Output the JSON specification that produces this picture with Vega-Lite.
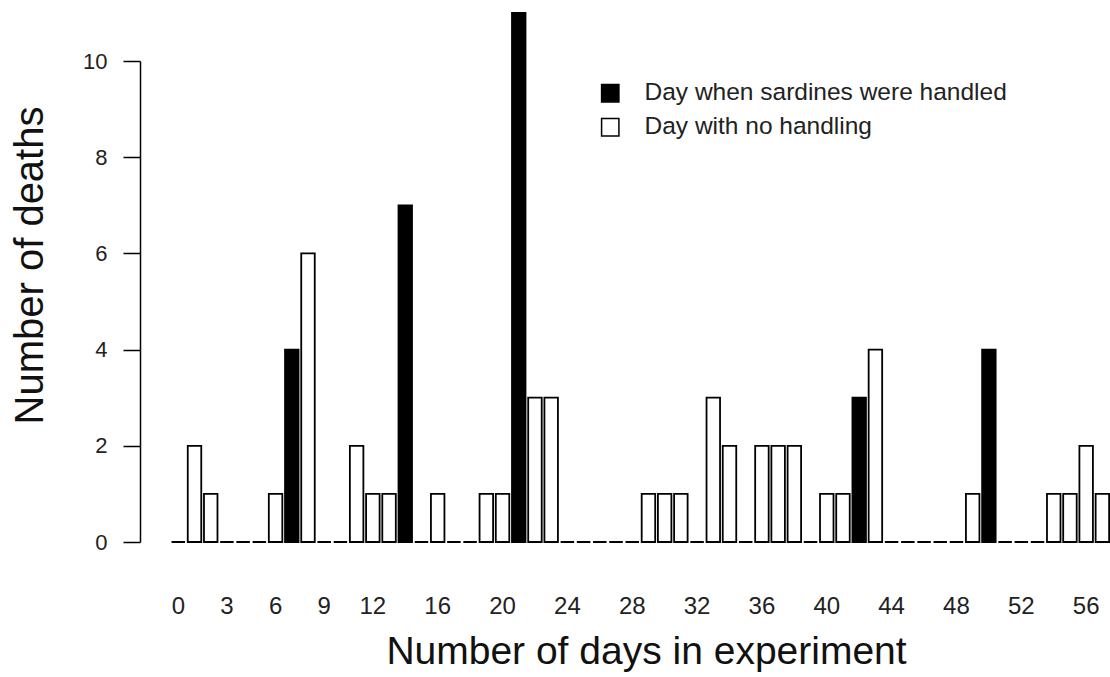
{
  "$schema": "https://vega.github.io/schema/vega-lite/v6.json",
  "width": 970,
  "height": 481,
  "autosize": "none",
  "padding": {"left": 140, "top": 61, "right": 0, "bottom": 135},
  "background": "white",
  "config": {"view": {"stroke": null}, "font": "Liberation Sans"},
  "data": {"values": [
    {"day": 0, "deaths": 0, "type": "Day with no handling"},
    {"day": 1, "deaths": 2, "type": "Day with no handling"},
    {"day": 2, "deaths": 1, "type": "Day with no handling"},
    {"day": 3, "deaths": 0, "type": "Day with no handling"},
    {"day": 4, "deaths": 0, "type": "Day with no handling"},
    {"day": 5, "deaths": 0, "type": "Day with no handling"},
    {"day": 6, "deaths": 1, "type": "Day with no handling"},
    {"day": 7, "deaths": 4, "type": "Day when sardines were handled"},
    {"day": 8, "deaths": 6, "type": "Day with no handling"},
    {"day": 9, "deaths": 0, "type": "Day with no handling"},
    {"day": 10, "deaths": 0, "type": "Day with no handling"},
    {"day": 11, "deaths": 2, "type": "Day with no handling"},
    {"day": 12, "deaths": 1, "type": "Day with no handling"},
    {"day": 13, "deaths": 1, "type": "Day with no handling"},
    {"day": 14, "deaths": 7, "type": "Day when sardines were handled"},
    {"day": 15, "deaths": 0, "type": "Day with no handling"},
    {"day": 16, "deaths": 1, "type": "Day with no handling"},
    {"day": 17, "deaths": 0, "type": "Day with no handling"},
    {"day": 18, "deaths": 0, "type": "Day with no handling"},
    {"day": 19, "deaths": 1, "type": "Day with no handling"},
    {"day": 20, "deaths": 1, "type": "Day with no handling"},
    {"day": 21, "deaths": 11, "type": "Day when sardines were handled"},
    {"day": 22, "deaths": 3, "type": "Day with no handling"},
    {"day": 23, "deaths": 3, "type": "Day with no handling"},
    {"day": 24, "deaths": 0, "type": "Day with no handling"},
    {"day": 25, "deaths": 0, "type": "Day with no handling"},
    {"day": 26, "deaths": 0, "type": "Day with no handling"},
    {"day": 27, "deaths": 0, "type": "Day with no handling"},
    {"day": 28, "deaths": 0, "type": "Day with no handling"},
    {"day": 29, "deaths": 1, "type": "Day with no handling"},
    {"day": 30, "deaths": 1, "type": "Day with no handling"},
    {"day": 31, "deaths": 1, "type": "Day with no handling"},
    {"day": 32, "deaths": 0, "type": "Day with no handling"},
    {"day": 33, "deaths": 3, "type": "Day with no handling"},
    {"day": 34, "deaths": 2, "type": "Day with no handling"},
    {"day": 35, "deaths": 0, "type": "Day with no handling"},
    {"day": 36, "deaths": 2, "type": "Day with no handling"},
    {"day": 37, "deaths": 2, "type": "Day with no handling"},
    {"day": 38, "deaths": 2, "type": "Day with no handling"},
    {"day": 39, "deaths": 0, "type": "Day with no handling"},
    {"day": 40, "deaths": 1, "type": "Day with no handling"},
    {"day": 41, "deaths": 1, "type": "Day with no handling"},
    {"day": 42, "deaths": 3, "type": "Day when sardines were handled"},
    {"day": 43, "deaths": 4, "type": "Day with no handling"},
    {"day": 44, "deaths": 0, "type": "Day with no handling"},
    {"day": 45, "deaths": 0, "type": "Day with no handling"},
    {"day": 46, "deaths": 0, "type": "Day with no handling"},
    {"day": 47, "deaths": 0, "type": "Day with no handling"},
    {"day": 48, "deaths": 0, "type": "Day with no handling"},
    {"day": 49, "deaths": 1, "type": "Day with no handling"},
    {"day": 50, "deaths": 4, "type": "Day when sardines were handled"},
    {"day": 51, "deaths": 0, "type": "Day with no handling"},
    {"day": 52, "deaths": 0, "type": "Day with no handling"},
    {"day": 53, "deaths": 0, "type": "Day with no handling"},
    {"day": 54, "deaths": 1, "type": "Day with no handling"},
    {"day": 55, "deaths": 1, "type": "Day with no handling"},
    {"day": 56, "deaths": 2, "type": "Day with no handling"},
    {"day": 57, "deaths": 1, "type": "Day with no handling"}
  ]},
  "mark": {"type": "bar", "stroke": "black", "strokeWidth": 1.8},
  "encoding": {
    "x": {
      "field": "day",
      "type": "ordinal",
      "scale": {"paddingInner": 0.167, "paddingOuter": 1.1467, "align": 0.973},
      "axis": {
        "values": [0, 3, 6, 9, 12, 16, 20, 24, 28, 32, 36, 40, 44, 48, 52, 56],
        "title": "Number of days in experiment",
        "domain": false,
        "ticks": false,
        "tickSize": 0,
        "labelFontSize": 24,
        "labelPadding": 71,
        "labelBaseline": "alphabetic",
        "labelAngle": 0,
        "labelColor": "#222",
        "labelOverlap": false,
        "titleFontSize": 39,
        "titleFontWeight": "normal",
        "titleColor": "#111",
        "titleX": 506,
        "titleY": 121,
        "titleBaseline": "alphabetic",
        "titleAlign": "center"
      }
    },
    "y": {
      "field": "deaths",
      "type": "quantitative",
      "stack": null,
      "scale": {"domain": [0, 10], "nice": false},
      "axis": {
        "values": [0, 2, 4, 6, 8, 10],
        "title": "Number of deaths",
        "grid": false,
        "domainColor": "black",
        "domainWidth": 1.5,
        "tickColor": "black",
        "tickWidth": 1.5,
        "tickSize": 17,
        "labelFontSize": 22,
        "labelPadding": 16,
        "labelColor": "#222",
        "titleFontSize": 40,
        "titleFontWeight": "normal",
        "titleColor": "#111",
        "titleX": -98,
        "titleY": 204,
        "titleAngle": 270,
        "titleAlign": "center",
        "titleBaseline": "alphabetic"
      }
    },
    "color": {
      "field": "type",
      "type": "nominal",
      "scale": {"domain": ["Day when sardines were handled", "Day with no handling"], "range": ["black", "white"]},
      "legend": {
        "title": null,
        "orient": "none",
        "legendX": 458,
        "legendY": 20,
        "symbolType": "square",
        "symbolSize": 300,
        "symbolStrokeColor": "black",
        "symbolStrokeWidth": 1.5,
        "labelFontSize": 24.5,
        "labelColor": "#222",
        "labelOffset": 22,
        "labelLimit": 0,
        "rowPadding": 9
      }
    }
  }
}
